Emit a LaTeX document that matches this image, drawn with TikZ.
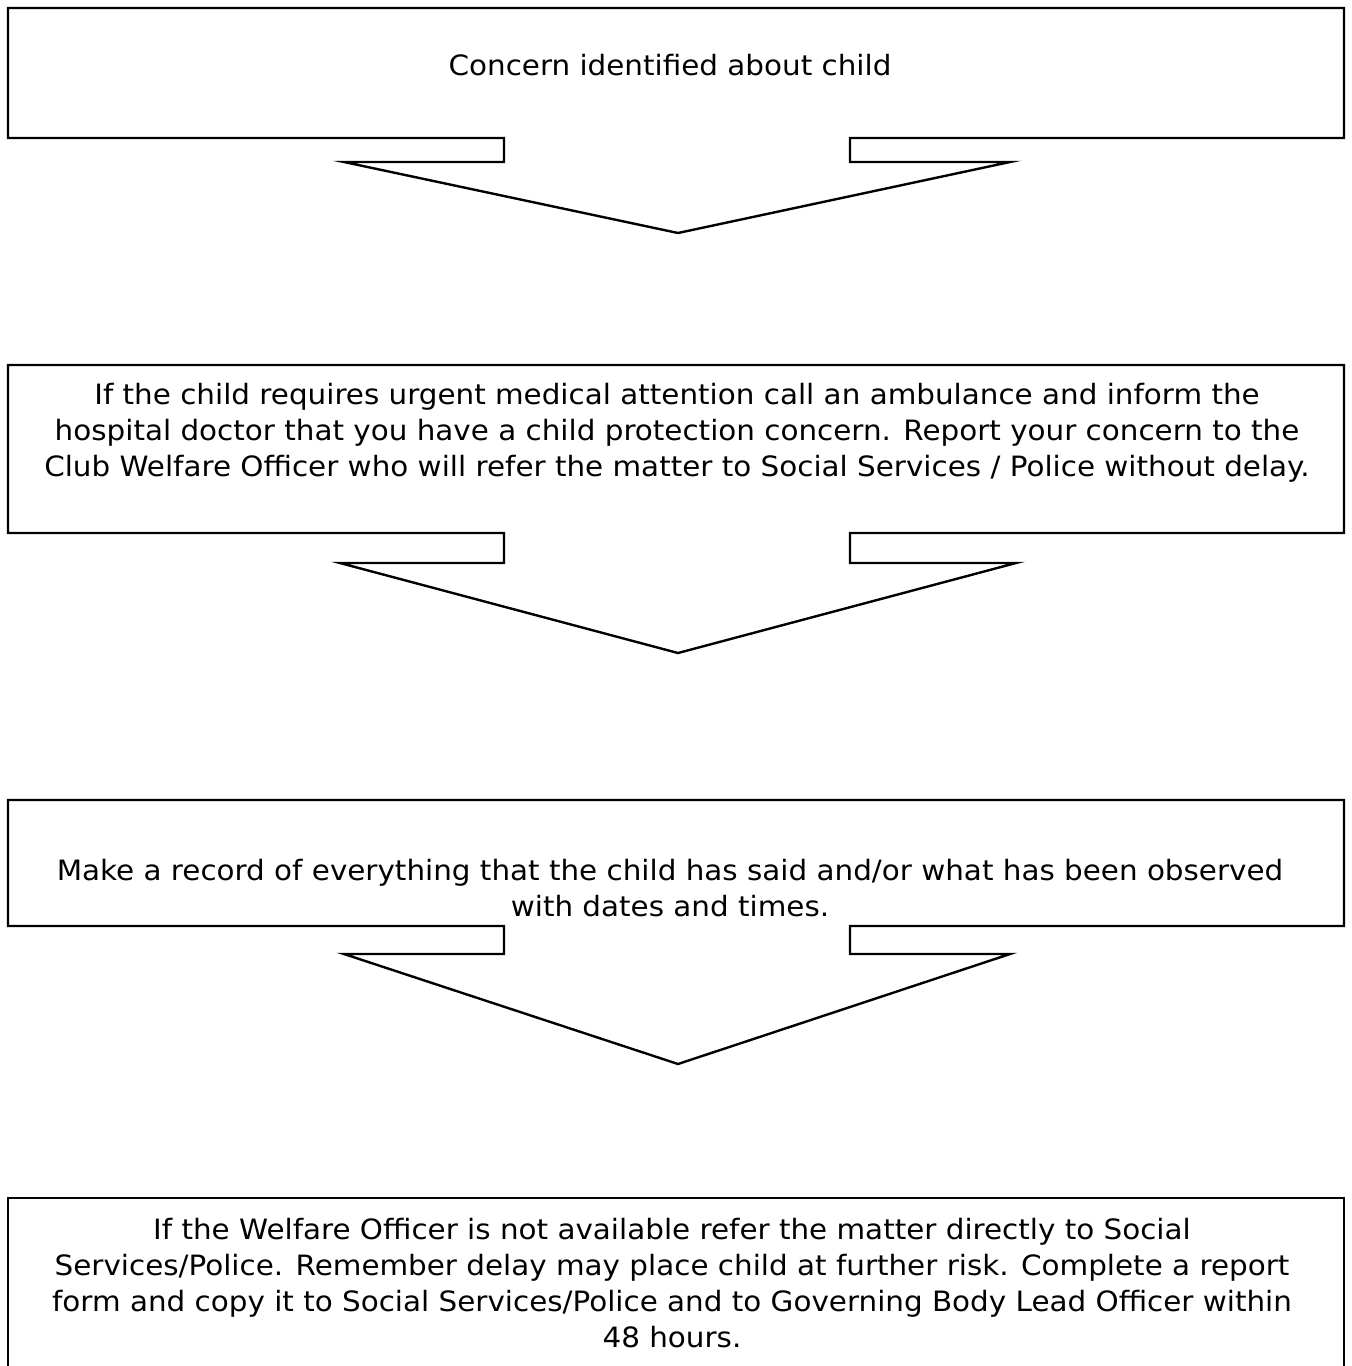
\documentclass[tikz,border=0pt]{standalone}
\usepackage{fontspec}
\setmainfont{DejaVu Sans}[FakeStretch=1.05]
\begin{document}
\begin{tikzpicture}[x=0.5pt, y=-0.5pt,
  callout/.style={line width=1.2pt, line join=miter},
  boxtext/.style={align=center, anchor=base, inner sep=0pt,
    font=\fontsize{14}{17.9}\selectfont}]
\useasboundingbox (0,0) rectangle (1351,1366);
\clip (0,0) rectangle (1351,1366);
% first step
\draw[callout] (8,8) -- (1344,8) -- (1344,138) -- (850,138) -- (850,162)
  -- (1010,162) -- (678,233) -- (344,162) -- (504,162) -- (504,138)
  -- (8,138) -- cycle;
\node[boxtext] (concern) at (670,75) {Concern identified about child};
% second step
\draw[callout] (8,365) -- (1344,365) -- (1344,533) -- (850,533) -- (850,563)
  -- (1016,563) -- (678,653) -- (340,563) -- (504,563) -- (504,533)
  -- (8,533) -- cycle;
\node[boxtext] (urgent) at (677,476) {If the child requires urgent medical attention call an ambulance and inform the\\
  hospital doctor that you have a child protection concern. Report your concern to the\\
  Club Welfare Officer who will refer the matter to Social Services / Police without delay.};
% third step
\draw[callout] (8,800) -- (1344,800) -- (1344,926) -- (850,926) -- (850,954)
  -- (1010,954) -- (678,1064) -- (344,954) -- (504,954) -- (504,926)
  -- (8,926) -- cycle;
\node[boxtext] (record) at (670,916) {Make a record of everything that the child has said and/or what has been observed\\
  with dates and times.};
% last step
\draw[callout] (8,1400) -- (8,1198) -- (1344,1198) -- (1344,1400);
\node[boxtext] (unavailable) at (672,1347) {If the Welfare Officer is not available refer the matter directly to Social\\
  Services/Police. Remember delay may place child at further risk. Complete a report\\
  form and copy it to Social Services/Police and to Governing Body Lead Officer within\\
  48 hours.};
\end{tikzpicture}
\end{document}
